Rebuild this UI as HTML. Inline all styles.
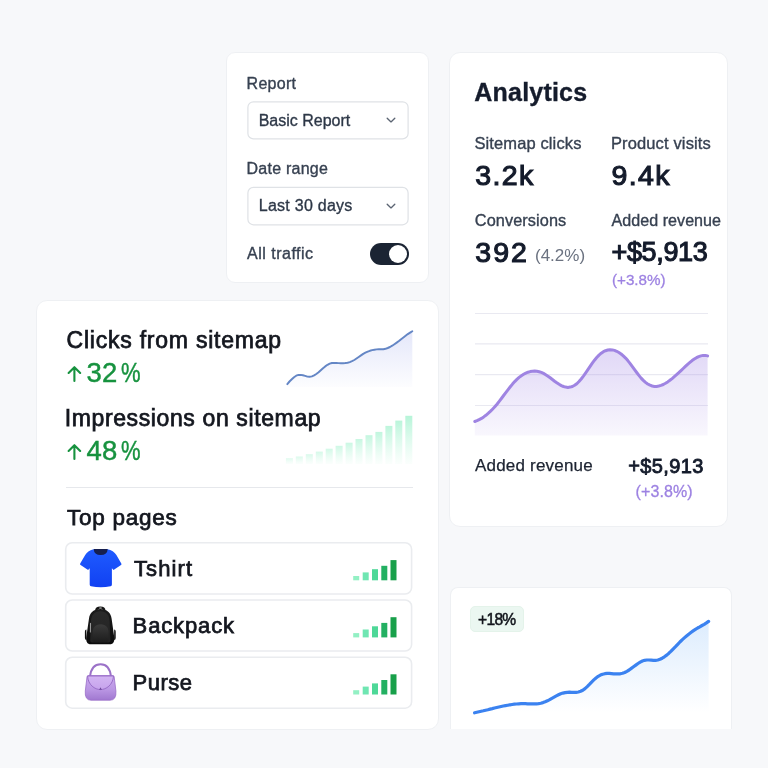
<!DOCTYPE html>
<html>
<head>
<meta charset="utf-8">
<style>
*{box-sizing:border-box;margin:0;padding:0}
html,body{width:768px;height:768px;overflow:hidden}
body{background:#f7f8fa;font-family:"Liberation Sans",sans-serif;position:relative;color:#111827}
.card{position:absolute;background:#fff;border:1px solid #eef0f3}
.t{position:absolute;white-space:nowrap;line-height:1;display:block}
.lbl{color:#374151;font-size:16px;-webkit-text-stroke:.35px #374151}
.sel{position:absolute;border:1px solid #d5d9df;border-radius:6px;background:#fff}
.big{font-weight:normal;color:#141b2b;font-size:29px;letter-spacing:.9px;-webkit-text-stroke:1.15px #141b2b}
.med{-webkit-text-stroke:.75px #14171f}
.row{position:absolute;left:64.8px;width:347.8px;height:52.2px;border:1.8px solid #e9ebee;border-radius:7px;background:#fff}
.grn{color:#17923f;font-size:27.5px;-webkit-text-stroke:.45px #17923f}
svg{position:absolute;overflow:visible}
</style>
</head>
<body>
<div id="root" style="position:absolute;left:0;top:0;width:768px;height:768px;will-change:transform">

<!-- Card 1: report filters -->
<div class="card" id="c1" style="left:225.7px;top:52.2px;width:203.2px;height:231px;border-radius:9px"></div>
<span class="t lbl" id="t_report" style="left:246.6px;top:75.5px;letter-spacing:.27px">Report</span>
<svg style="left:0;top:0" width="768" height="768" viewBox="0 0 768 768"><g fill="#fff" stroke="#dfe2e6" stroke-width="1.2"><rect x="247.9" y="101.8" width="160.2" height="37.1" rx="5.5"/><rect x="247.9" y="187.4" width="160.2" height="37.4" rx="5.5"/></g></svg>
<span class="t lbl" id="t_basic" style="left:258.7px;top:112.5px;color:#2b3544">Basic Report</span>
<svg style="left:386px;top:117.2px" width="10" height="7" viewBox="0 0 10 7"><path d="M1.2 1.2 L5 4.9 L8.8 1.2" fill="none" stroke="#5b6472" stroke-width="1.35" stroke-linecap="round" stroke-linejoin="round"/></svg>
<span class="t lbl" id="t_date" style="left:246.5px;top:160.5px;letter-spacing:.25px">Date range</span>
<span class="t lbl" id="t_last" style="left:258.8px;top:198px;color:#2b3544;letter-spacing:.25px">Last 30 days</span>
<svg style="left:386px;top:203px" width="10" height="7" viewBox="0 0 10 7"><path d="M1.2 1.2 L5 4.9 L8.8 1.2" fill="none" stroke="#5b6472" stroke-width="1.35" stroke-linecap="round" stroke-linejoin="round"/></svg>
<span class="t lbl" id="t_all" style="left:247px;top:246px;letter-spacing:.5px">All traffic</span>
<div style="position:absolute;left:370px;top:243.3px;width:38.5px;height:21.5px;border-radius:11px;background:#1b2433"></div>
<div style="position:absolute;left:388.7px;top:245px;width:18px;height:18px;border-radius:9px;background:#fff"></div>

<!-- Card 2: analytics -->
<div class="card" id="c2" style="left:449.3px;top:52.3px;width:278.6px;height:474.5px;border-radius:11px"></div>
<span class="t" id="t_analytics" style="left:474.3px;top:80px;font-size:25px;font-weight:bold;color:#151c2c;-webkit-text-stroke:.35px #151c2c;letter-spacing:.2px">Analytics</span>
<span class="t lbl" id="t_sm" style="left:474.40px;top:134.7px;font-size:16.5px;letter-spacing:0.12px">Sitemap clicks</span>
<span class="t lbl" id="t_pv" style="left:610.90px;top:134.7px;font-size:16.5px;letter-spacing:0.14px">Product visits</span>
<span class="t big" id="t_32k" style="left:475.30px;top:161px;font-size:28.5px;letter-spacing:1.35px">3.2k</span>
<span class="t big" id="t_94k" style="left:611.60px;top:161px;font-size:28.5px;letter-spacing:1.35px">9.4k</span>
<span class="t lbl" id="t_conv" style="left:474.80px;top:211.5px;font-size:16.3px;letter-spacing:0.09px">Conversions</span>
<span class="t lbl" id="t_ar" style="left:611.50px;top:211.7px;font-size:16.1px;letter-spacing:0.03px">Added revenue</span>
<span class="t big" id="t_392" style="left:475.30px;top:238px;font-size:28.5px;letter-spacing:2.05px">392</span>
<span class="t" id="t_42" style="left:535px;top:247.3px;font-size:17px;color:#6b7280">(4.2%)</span>
<span class="t" id="t_5913" style="left:611.60px;top:239px;font-size:27px;font-weight:normal;letter-spacing:-0.38px;color:#141b2b;-webkit-text-stroke:1.1px #141b2b">+$5,913</span>
<span class="t" id="t_38" style="left:612px;top:272.3px;font-size:15.2px;color:#9d82e2;-webkit-text-stroke:.3px #9d82e2">(+3.8%)</span>

<svg id="chart2" style="left:0;top:0" width="768" height="768" viewBox="0 0 768 768">
  <defs>
    <linearGradient id="pg" x1="0" y1="0" x2="0" y2="1">
      <stop offset="0" stop-color="#a58be6" stop-opacity=".34"/>
      <stop offset="1" stop-color="#a58be6" stop-opacity=".07"/>
    </linearGradient>
    <linearGradient id="sg" x1="0" y1="0" x2="0" y2="1">
      <stop offset="0" stop-color="#8a97e8" stop-opacity=".23"/>
      <stop offset="1" stop-color="#8a97e8" stop-opacity=".02"/>
    </linearGradient>
    <linearGradient id="bg4" x1="0" y1="0" x2="0" y2="1">
      <stop offset="0" stop-color="#52a0f6" stop-opacity=".2"/>
      <stop offset="1" stop-color="#52a0f6" stop-opacity="0"/>
    </linearGradient>
  </defs>
  <g stroke="#e9e9f1" stroke-width="1.2">
    <line x1="475" y1="313.5" x2="708" y2="313.5"/>
    <line x1="475" y1="343.8" x2="708" y2="343.8"/>
    <line x1="475" y1="374.6" x2="708" y2="374.6"/>
    <line x1="475" y1="405.5" x2="708" y2="405.5"/>
  </g>
  <path id="pfill" fill="url(#pg)" d="M474.8 421.5 L477.0 420.7 L479.2 419.6 L481.5 418.4 L483.7 416.9 L485.9 415.3 L488.1 413.4 L490.3 411.4 L492.5 409.2 L494.8 406.8 L497.0 404.2 L499.2 401.4 L501.4 398.5 L503.6 395.5 L505.8 392.6 L508.1 389.6 L510.3 386.8 L512.5 384.1 L514.7 381.6 L516.9 379.4 L519.1 377.4 L521.4 375.7 L523.6 374.3 L525.8 373.1 L528.0 372.2 L530.2 371.6 L532.4 371.2 L534.7 371.1 L536.9 371.3 L539.1 371.7 L541.3 372.4 L543.5 373.4 L545.7 374.7 L548.0 376.2 L550.2 377.8 L552.4 379.5 L554.6 381.2 L556.8 382.8 L559.1 384.3 L561.3 385.6 L563.5 386.5 L565.7 387.1 L567.9 387.4 L570.1 387.1 L572.4 386.5 L574.6 385.3 L576.8 383.7 L579.0 381.5 L581.2 379.0 L583.4 376.1 L585.7 372.9 L587.9 369.7 L590.1 366.4 L592.3 363.2 L594.5 360.2 L596.7 357.5 L599.0 355.1 L601.2 353.2 L603.4 351.7 L605.6 350.7 L607.8 350.0 L610.0 349.8 L612.3 349.9 L614.5 350.4 L616.7 351.3 L618.9 352.5 L621.1 354.0 L623.3 355.9 L625.6 358.1 L627.8 360.6 L630.0 363.4 L632.2 366.4 L634.4 369.4 L636.7 372.5 L638.9 375.4 L641.1 378.1 L643.3 380.4 L645.5 382.4 L647.7 384.0 L650.0 385.2 L652.2 386.0 L654.4 386.4 L656.6 386.4 L658.8 386.0 L661.0 385.4 L663.3 384.5 L665.5 383.3 L667.7 381.9 L669.9 380.3 L672.1 378.6 L674.3 376.7 L676.6 374.7 L678.8 372.7 L681.0 370.6 L683.2 368.5 L685.4 366.4 L687.6 364.3 L689.9 362.4 L692.1 360.6 L694.3 359.1 L696.5 357.7 L698.7 356.6 L700.9 355.9 L703.2 355.4 L705.4 355.4 L707.6 355.9 L707.6 435.6 L474.8 435.6 Z"/>
  <path id="pline" fill="none" stroke="#9f84e2" stroke-width="3" stroke-linecap="round" stroke-linejoin="round" d="M474.8 421.5 L477.0 420.7 L479.2 419.6 L481.5 418.4 L483.7 416.9 L485.9 415.3 L488.1 413.4 L490.3 411.4 L492.5 409.2 L494.8 406.8 L497.0 404.2 L499.2 401.4 L501.4 398.5 L503.6 395.5 L505.8 392.6 L508.1 389.6 L510.3 386.8 L512.5 384.1 L514.7 381.6 L516.9 379.4 L519.1 377.4 L521.4 375.7 L523.6 374.3 L525.8 373.1 L528.0 372.2 L530.2 371.6 L532.4 371.2 L534.7 371.1 L536.9 371.3 L539.1 371.7 L541.3 372.4 L543.5 373.4 L545.7 374.7 L548.0 376.2 L550.2 377.8 L552.4 379.5 L554.6 381.2 L556.8 382.8 L559.1 384.3 L561.3 385.6 L563.5 386.5 L565.7 387.1 L567.9 387.4 L570.1 387.1 L572.4 386.5 L574.6 385.3 L576.8 383.7 L579.0 381.5 L581.2 379.0 L583.4 376.1 L585.7 372.9 L587.9 369.7 L590.1 366.4 L592.3 363.2 L594.5 360.2 L596.7 357.5 L599.0 355.1 L601.2 353.2 L603.4 351.7 L605.6 350.7 L607.8 350.0 L610.0 349.8 L612.3 349.9 L614.5 350.4 L616.7 351.3 L618.9 352.5 L621.1 354.0 L623.3 355.9 L625.6 358.1 L627.8 360.6 L630.0 363.4 L632.2 366.4 L634.4 369.4 L636.7 372.5 L638.9 375.4 L641.1 378.1 L643.3 380.4 L645.5 382.4 L647.7 384.0 L650.0 385.2 L652.2 386.0 L654.4 386.4 L656.6 386.4 L658.8 386.0 L661.0 385.4 L663.3 384.5 L665.5 383.3 L667.7 381.9 L669.9 380.3 L672.1 378.6 L674.3 376.7 L676.6 374.7 L678.8 372.7 L681.0 370.6 L683.2 368.5 L685.4 366.4 L687.6 364.3 L689.9 362.4 L692.1 360.6 L694.3 359.1 L696.5 357.7 L698.7 356.6 L700.9 355.9 L703.2 355.4 L705.4 355.4 L707.6 355.9"/>
</svg>

<span class="t" id="t_ar2" style="left:475px;top:457px;font-size:17px;color:#1c2331;-webkit-text-stroke:.25px #1c2331;letter-spacing:.2px">Added revenue</span>
<span class="t" id="t_5913b" style="left:628.3px;top:456px;font-size:20px;font-weight:normal;color:#141b2b;letter-spacing:.35px;-webkit-text-stroke:.85px #141b2b">+$5,913</span>
<span class="t" id="t_38b" style="left:635.5px;top:483.5px;font-size:16px;color:#9d82e2;letter-spacing:.12px;-webkit-text-stroke:.3px #9d82e2">(+3.8%)</span>

<!-- Card 3 -->
<div class="card" id="c3" style="left:36.3px;top:299.7px;width:402.3px;height:430.3px;border-radius:11px"></div>
<span class="t med" id="t_clicks" style="left:66.6px;top:329px;font-size:23px;letter-spacing:.77px;color:#14171f">Clicks from sitemap</span>
<span class="t grn" id="t_32" style="left:86.6px;top:358.7px">32<span style="display:inline-block;margin-left:4.2px;transform:scaleX(.8);transform-origin:0 50%">%</span></span>
<span class="t med" id="t_impr" style="left:64.7px;top:407px;font-size:23px;letter-spacing:.62px;color:#14171f">Impressions on sitemap</span>
<span class="t grn" id="t_48" style="left:86.6px;top:436.8px">48<span style="display:inline-block;margin-left:4.2px;transform:scaleX(.8);transform-origin:0 50%">%</span></span>
<div style="position:absolute;left:66px;top:486.7px;width:347px;height:1.3px;background:#e6e8ec"></div>
<span class="t med" id="t_top" style="left:67px;top:507px;font-size:22.5px;letter-spacing:.75px;color:#14171f">Top pages</span>

<svg style="left:0;top:0" width="768" height="768" viewBox="0 0 768 768"><g fill="#fff" stroke="#eaecef" stroke-width="1.6">
<rect x="65.7" y="542.7" width="345.9" height="51.3" rx="6.5"/>
<rect x="65.7" y="600" width="345.9" height="51" rx="6.5"/>
<rect x="65.7" y="657.2" width="345.9" height="51" rx="6.5"/>
</g></svg>
<span class="t med" id="t_tshirt" style="left:134px;top:558.4px;font-size:22px;color:#14171f;letter-spacing:1.1px">Tshirt</span>
<span class="t med" id="t_backpack" style="left:132.6px;top:615.4px;font-size:22px;color:#14171f;letter-spacing:.86px">Backpack</span>
<span class="t med" id="t_purse" style="left:132.6px;top:672.3px;font-size:22px;color:#14171f;letter-spacing:.5px">Purse</span>

<svg id="icons" style="left:0;top:0" width="768" height="768" viewBox="0 0 768 768">
  <defs>
    <linearGradient id="tsg" x1="0" y1="0" x2="0" y2="1"><stop offset="0" stop-color="#1f5bff"/><stop offset="1" stop-color="#1141f2"/></linearGradient>
    <linearGradient id="bpg" x1="0" y1="0" x2="0" y2="1"><stop offset="0" stop-color="#1c1c1c"/><stop offset="1" stop-color="#0b0b0b"/></linearGradient>
    <linearGradient id="bpi" x1="0" y1="0" x2="0" y2="1"><stop offset="0" stop-color="#2a2a2a"/><stop offset="1" stop-color="#222"/></linearGradient>
    <linearGradient id="bpp" x1="0" y1="0" x2="0" y2="1"><stop offset="0" stop-color="#3b3b3b"/><stop offset="1" stop-color="#1d1d1d"/></linearGradient>
    <linearGradient id="pug" x1="0" y1="0" x2="0" y2="1"><stop offset="0" stop-color="#caa8ee"/><stop offset=".55" stop-color="#bb97e4"/><stop offset="1" stop-color="#a078d0"/></linearGradient>
    <linearGradient id="puf" x1="0" y1="0" x2="0" y2="1"><stop offset="0" stop-color="#d3b5f3"/><stop offset="1" stop-color="#c6a3ec"/></linearGradient>
  </defs>
  <!-- tshirt -->
  <path fill="url(#tsg)" d="M93.9 549.2 C90 549.6 87 552 85.2 555 L80.2 563.5 Q79.7 564.5 80.6 565.1 L88.1 569.9 L89.7 568.2 L89.7 584.6 Q89.7 586 91 586.3 Q100.8 588.3 110.6 586.3 Q111.9 586 111.9 584.6 L111.9 568.2 L113.5 569.9 L121 565.1 Q121.8 564.5 121.3 563.5 L116.4 555 C114.5 552 111.5 549.6 107.5 549.2 Z"/>
  <path fill="#161f4f" d="M93.7 549 L107.7 549 Q107.4 555 100.7 555 Q94 555 93.7 549 Z"/>
  <!-- backpack -->
  <path fill="none" stroke="#151515" stroke-width="2.3" stroke-linecap="round" d="M96.3 610.3 C96.3 606.7 104.3 606.7 104.3 610.3"/>
  <rect x="99.2" y="607.3" width="2.6" height="1.5" rx=".6" fill="#909090"/>
  <path fill="#101010" d="M86.4 629.5 q-1.4 .2 -1.5 2 v6.5 q0 1.8 1.6 2 z M114.2 629.5 q1.4 .2 1.5 2 v6.5 q0 1.8 -1.6 2 z"/>
  <path fill="url(#bpg)" d="M100.3 609 C93.5 609 89.6 613 89 618.5 L86.3 637 C85.8 641.5 87 644.3 91 644.3 L109.6 644.3 C113.6 644.3 114.7 641.5 114.2 637 L111.6 618.5 C111 613 107 609 100.3 609 Z"/>
  <path fill="url(#bpi)" d="M100.3 611.2 C94.5 611.2 91.4 615 91 621 L90.2 640.5 Q90.2 642.4 92 642.4 L108.6 642.4 Q110.4 642.4 110.4 640.5 L109.6 621 C109.2 615 106.1 611.2 100.3 611.2 Z"/>
  <path fill="url(#bpp)" d="M100.6 624.2 C95 624.2 92.6 628 92.6 633 L92.6 640 Q92.6 642 94.8 642 L106.4 642 Q108.6 642 108.6 640 L108.6 633 C108.6 628 106.2 624.2 100.6 624.2 Z"/>
  <path stroke="#9a9a9a" stroke-width="1.1" stroke-linecap="round" d="M90.5 623.4 L90.4 632"/>
  <!-- purse -->
  <path fill="none" stroke="#9b72c8" stroke-width="2" stroke-linecap="round" d="M90 676.5 C91 668 95 664.2 100.6 664.2 C106.2 664.2 110 668 111 676.5"/>
  <path fill="url(#pug)" stroke="#9a70c9" stroke-width=".8" d="M88.2 675.6 L112.9 675.6 Q114 675.6 114.2 677 L115.9 691 Q116.6 700.2 110 700.2 L91 700.2 Q84.6 700.2 85.3 691 L87 677 Q87.2 675.6 88.2 675.6 Z"/>
  <path fill="url(#puf)" stroke="#9468c4" stroke-width=".9" d="M87.6 676 L113.5 676 C113 685 106 689.6 100.5 689.6 C95 689.6 88 685 87.6 676 Z"/>
  <path fill="#6f4a9c" d="M100.5 687.2 l1.3 2.6 h-2.6z"/>
</svg>

<!-- Card 4 -->
<div class="card" id="c4" style="left:450.2px;top:587.2px;width:282px;height:141.8px;border-radius:8px 8px 0 0;border-bottom:none"></div>
<div style="position:absolute;left:470.2px;top:606.2px;width:54px;height:25.8px;border-radius:5px;background:#ebf7f1;border:1px solid #e4f3ea"></div>
<span class="t" id="t_18" style="left:478px;top:611.5px;font-size:15.6px;color:#12151c;-webkit-text-stroke:.5px #12151c;letter-spacing:-.7px">+18%</span>

<svg id="overlay" style="left:0;top:0" width="768" height="768" viewBox="0 0 768 768">
  <!-- arrows -->
  <g fill="none" stroke="#17923f" stroke-width="2.1" stroke-linecap="round" stroke-linejoin="round">
    <path d="M74.4 381 V367.3 M68.6 373 L74.4 367.2 L80.2 373"/>
    <path d="M74.4 459 V445.3 M68.6 451 L74.4 445.2 L80.2 451"/>
  </g>
  <!-- sparkline 1 -->
  <path id="sfill" fill="url(#sg)" d="M287.3 384.1 L289.5 381.5 L291.8 379.2 L294.0 377.2 L296.2 375.7 L298.5 374.9 L300.7 374.9 L302.9 375.3 L305.2 375.9 L307.4 376.6 L309.6 376.8 L311.9 376.4 L314.1 375.4 L316.3 374.0 L318.6 372.2 L320.8 370.2 L323.0 368.2 L325.2 366.4 L327.5 364.8 L329.7 363.6 L331.9 363.0 L334.2 362.9 L336.4 362.9 L338.6 363.1 L340.9 363.2 L343.1 363.2 L345.3 363.0 L347.6 362.7 L349.8 362.1 L352.0 361.2 L354.3 360.0 L356.5 358.5 L358.7 357.0 L361.0 355.4 L363.2 353.9 L365.4 352.7 L367.7 351.6 L369.9 350.8 L372.1 350.1 L374.4 349.7 L376.6 349.4 L378.8 349.3 L381.1 349.3 L383.3 349.2 L385.5 348.8 L387.7 348.0 L390.0 347.0 L392.2 345.7 L394.4 344.2 L396.7 342.6 L398.9 341.0 L401.1 339.2 L403.4 337.5 L405.6 335.8 L407.8 334.1 L410.1 332.6 L412.3 331.2 L412.3 387.0 L287.3 387.0 Z"/>
  <path id="sline" fill="none" stroke="#6486c5" stroke-width="1.95" stroke-linecap="round" stroke-linejoin="round" d="M287.3 384.1 L289.5 381.5 L291.8 379.2 L294.0 377.2 L296.2 375.7 L298.5 374.9 L300.7 374.9 L302.9 375.3 L305.2 375.9 L307.4 376.6 L309.6 376.8 L311.9 376.4 L314.1 375.4 L316.3 374.0 L318.6 372.2 L320.8 370.2 L323.0 368.2 L325.2 366.4 L327.5 364.8 L329.7 363.6 L331.9 363.0 L334.2 362.9 L336.4 362.9 L338.6 363.1 L340.9 363.2 L343.1 363.2 L345.3 363.0 L347.6 362.7 L349.8 362.1 L352.0 361.2 L354.3 360.0 L356.5 358.5 L358.7 357.0 L361.0 355.4 L363.2 353.9 L365.4 352.7 L367.7 351.6 L369.9 350.8 L372.1 350.1 L374.4 349.7 L376.6 349.4 L378.8 349.3 L381.1 349.3 L383.3 349.2 L385.5 348.8 L387.7 348.0 L390.0 347.0 L392.2 345.7 L394.4 344.2 L396.7 342.6 L398.9 341.0 L401.1 339.2 L403.4 337.5 L405.6 335.8 L407.8 334.1 L410.1 332.6 L412.3 331.2"/>
  <!-- mini bars -->
  <g id="mbars"><defs><linearGradient id="mg0" x1="0" y1="0" x2="0" y2="1"><stop offset="0" stop-color="#b4f4d7" stop-opacity="0.42"/><stop offset="1" stop-color="#d3f9e7" stop-opacity="0.10"/></linearGradient><linearGradient id="mg1" x1="0" y1="0" x2="0" y2="1"><stop offset="0" stop-color="#b4f4d7" stop-opacity="0.47"/><stop offset="1" stop-color="#d3f9e7" stop-opacity="0.10"/></linearGradient><linearGradient id="mg2" x1="0" y1="0" x2="0" y2="1"><stop offset="0" stop-color="#b4f4d7" stop-opacity="0.51"/><stop offset="1" stop-color="#d3f9e7" stop-opacity="0.10"/></linearGradient><linearGradient id="mg3" x1="0" y1="0" x2="0" y2="1"><stop offset="0" stop-color="#b4f4d7" stop-opacity="0.56"/><stop offset="1" stop-color="#d3f9e7" stop-opacity="0.10"/></linearGradient><linearGradient id="mg4" x1="0" y1="0" x2="0" y2="1"><stop offset="0" stop-color="#b4f4d7" stop-opacity="0.60"/><stop offset="1" stop-color="#d3f9e7" stop-opacity="0.10"/></linearGradient><linearGradient id="mg5" x1="0" y1="0" x2="0" y2="1"><stop offset="0" stop-color="#b4f4d7" stop-opacity="0.65"/><stop offset="1" stop-color="#d3f9e7" stop-opacity="0.10"/></linearGradient><linearGradient id="mg6" x1="0" y1="0" x2="0" y2="1"><stop offset="0" stop-color="#b4f4d7" stop-opacity="0.70"/><stop offset="1" stop-color="#d3f9e7" stop-opacity="0.10"/></linearGradient><linearGradient id="mg7" x1="0" y1="0" x2="0" y2="1"><stop offset="0" stop-color="#b4f4d7" stop-opacity="0.74"/><stop offset="1" stop-color="#d3f9e7" stop-opacity="0.10"/></linearGradient><linearGradient id="mg8" x1="0" y1="0" x2="0" y2="1"><stop offset="0" stop-color="#b4f4d7" stop-opacity="0.79"/><stop offset="1" stop-color="#d3f9e7" stop-opacity="0.10"/></linearGradient><linearGradient id="mg9" x1="0" y1="0" x2="0" y2="1"><stop offset="0" stop-color="#b4f4d7" stop-opacity="0.83"/><stop offset="1" stop-color="#d3f9e7" stop-opacity="0.10"/></linearGradient><linearGradient id="mg10" x1="0" y1="0" x2="0" y2="1"><stop offset="0" stop-color="#b4f4d7" stop-opacity="0.88"/><stop offset="1" stop-color="#d3f9e7" stop-opacity="0.10"/></linearGradient><linearGradient id="mg11" x1="0" y1="0" x2="0" y2="1"><stop offset="0" stop-color="#b4f4d7" stop-opacity="0.92"/><stop offset="1" stop-color="#d3f9e7" stop-opacity="0.10"/></linearGradient><linearGradient id="mg12" x1="0" y1="0" x2="0" y2="1"><stop offset="0" stop-color="#b4f4d7" stop-opacity="0.97"/><stop offset="1" stop-color="#d3f9e7" stop-opacity="0.10"/></linearGradient></defs><rect x="285.9" y="458.2" width="7" height="5.8" fill="url(#mg0)"/><rect x="295.8" y="456.5" width="7" height="7.5" fill="url(#mg1)"/><rect x="305.8" y="454.2" width="7" height="9.8" fill="url(#mg2)"/><rect x="315.8" y="451.6" width="7" height="12.4" fill="url(#mg3)"/><rect x="325.7" y="448.7" width="7" height="15.3" fill="url(#mg4)"/><rect x="335.6" y="445.8" width="7" height="18.2" fill="url(#mg5)"/><rect x="345.6" y="442.7" width="7" height="21.3" fill="url(#mg6)"/><rect x="355.5" y="439.0" width="7" height="25.0" fill="url(#mg7)"/><rect x="365.5" y="435.2" width="7" height="28.8" fill="url(#mg8)"/><rect x="375.4" y="431.9" width="7" height="32.1" fill="url(#mg9)"/><rect x="385.4" y="425.9" width="7" height="38.1" fill="url(#mg10)"/><rect x="395.3" y="420.6" width="7" height="43.4" fill="url(#mg11)"/><rect x="405.3" y="415.8" width="7" height="48.2" fill="url(#mg12)"/></g>
  <!-- signal bars -->
  <g id="sig"><rect x="353.2" y="576.0" width="6" height="4.3" fill="#93f0c4"/><rect x="362.7" y="572.4" width="6" height="7.9" fill="#6fe6b2"/><rect x="372.0" y="569.2" width="6" height="11.1" fill="#4ed898"/><rect x="381.3" y="565.8" width="6" height="14.5" fill="#23b062"/><rect x="390.5" y="560.1" width="6" height="20.2" fill="#18a04a"/><rect x="353.2" y="633.1" width="6" height="4.3" fill="#93f0c4"/><rect x="362.7" y="629.5" width="6" height="7.9" fill="#6fe6b2"/><rect x="372.0" y="626.3" width="6" height="11.1" fill="#4ed898"/><rect x="381.3" y="622.9" width="6" height="14.5" fill="#23b062"/><rect x="390.5" y="617.2" width="6" height="20.2" fill="#18a04a"/><rect x="353.2" y="690.2" width="6" height="4.3" fill="#93f0c4"/><rect x="362.7" y="686.6" width="6" height="7.9" fill="#6fe6b2"/><rect x="372.0" y="683.4" width="6" height="11.1" fill="#4ed898"/><rect x="381.3" y="680.0" width="6" height="14.5" fill="#23b062"/><rect x="390.5" y="674.3" width="6" height="20.2" fill="#18a04a"/></g>
  <!-- blue chart -->
  <path id="bfill" fill="url(#bg4)" d="M474.6 712.8 L476.8 712.3 L479.0 711.8 L481.2 711.3 L483.4 710.8 L485.6 710.2 L487.8 709.7 L490.1 709.1 L492.3 708.6 L494.5 708.0 L496.7 707.5 L498.9 707.0 L501.1 706.5 L503.3 706.0 L505.5 705.6 L507.7 705.2 L509.9 704.8 L512.1 704.5 L514.3 704.2 L516.5 704.0 L518.8 703.8 L521.0 703.7 L523.2 703.7 L525.4 703.7 L527.6 703.8 L529.8 703.9 L532.0 703.9 L534.2 703.9 L536.4 703.8 L538.6 703.6 L540.8 703.2 L543.0 702.6 L545.2 701.8 L547.4 700.8 L549.7 699.6 L551.9 698.3 L554.1 697.1 L556.3 695.9 L558.5 694.8 L560.7 693.8 L562.9 693.1 L565.1 692.6 L567.3 692.3 L569.5 692.2 L571.7 692.3 L573.9 692.3 L576.1 692.3 L578.4 692.0 L580.6 691.3 L582.8 690.2 L585.0 688.6 L587.2 686.6 L589.4 684.4 L591.6 682.1 L593.8 679.9 L596.0 678.0 L598.2 676.3 L600.4 675.1 L602.6 674.2 L604.8 673.7 L607.1 673.4 L609.3 673.4 L611.5 673.6 L613.7 673.8 L615.9 673.9 L618.1 673.9 L620.3 673.8 L622.5 673.3 L624.7 672.5 L626.9 671.3 L629.1 670.0 L631.3 668.4 L633.5 666.8 L635.8 665.1 L638.0 663.5 L640.2 662.1 L642.4 661.0 L644.6 660.3 L646.8 660.0 L649.0 660.0 L651.2 660.1 L653.4 660.3 L655.6 660.3 L657.8 660.0 L660.0 659.3 L662.2 658.2 L664.4 656.8 L666.7 655.1 L668.9 653.2 L671.1 651.1 L673.3 648.8 L675.5 646.6 L677.7 644.3 L679.9 642.0 L682.1 639.9 L684.3 637.9 L686.5 636.0 L688.7 634.2 L690.9 632.5 L693.1 630.9 L695.4 629.4 L697.6 628.0 L699.8 626.8 L702.0 625.5 L704.2 624.3 L706.4 622.9 L708.6 621.4 L708.6 712.0 L474.6 712.0 Z"/>
  <path id="bline" fill="none" stroke="#3b82f0" stroke-width="3.2" stroke-linecap="round" stroke-linejoin="round" d="M474.6 712.8 L476.8 712.3 L479.0 711.8 L481.2 711.3 L483.4 710.8 L485.6 710.2 L487.8 709.7 L490.1 709.1 L492.3 708.6 L494.5 708.0 L496.7 707.5 L498.9 707.0 L501.1 706.5 L503.3 706.0 L505.5 705.6 L507.7 705.2 L509.9 704.8 L512.1 704.5 L514.3 704.2 L516.5 704.0 L518.8 703.8 L521.0 703.7 L523.2 703.7 L525.4 703.7 L527.6 703.8 L529.8 703.9 L532.0 703.9 L534.2 703.9 L536.4 703.8 L538.6 703.6 L540.8 703.2 L543.0 702.6 L545.2 701.8 L547.4 700.8 L549.7 699.6 L551.9 698.3 L554.1 697.1 L556.3 695.9 L558.5 694.8 L560.7 693.8 L562.9 693.1 L565.1 692.6 L567.3 692.3 L569.5 692.2 L571.7 692.3 L573.9 692.3 L576.1 692.3 L578.4 692.0 L580.6 691.3 L582.8 690.2 L585.0 688.6 L587.2 686.6 L589.4 684.4 L591.6 682.1 L593.8 679.9 L596.0 678.0 L598.2 676.3 L600.4 675.1 L602.6 674.2 L604.8 673.7 L607.1 673.4 L609.3 673.4 L611.5 673.6 L613.7 673.8 L615.9 673.9 L618.1 673.9 L620.3 673.8 L622.5 673.3 L624.7 672.5 L626.9 671.3 L629.1 670.0 L631.3 668.4 L633.5 666.8 L635.8 665.1 L638.0 663.5 L640.2 662.1 L642.4 661.0 L644.6 660.3 L646.8 660.0 L649.0 660.0 L651.2 660.1 L653.4 660.3 L655.6 660.3 L657.8 660.0 L660.0 659.3 L662.2 658.2 L664.4 656.8 L666.7 655.1 L668.9 653.2 L671.1 651.1 L673.3 648.8 L675.5 646.6 L677.7 644.3 L679.9 642.0 L682.1 639.9 L684.3 637.9 L686.5 636.0 L688.7 634.2 L690.9 632.5 L693.1 630.9 L695.4 629.4 L697.6 628.0 L699.8 626.8 L702.0 625.5 L704.2 624.3 L706.4 622.9 L708.6 621.4"/>
</svg>

</div>
</body>
</html>
